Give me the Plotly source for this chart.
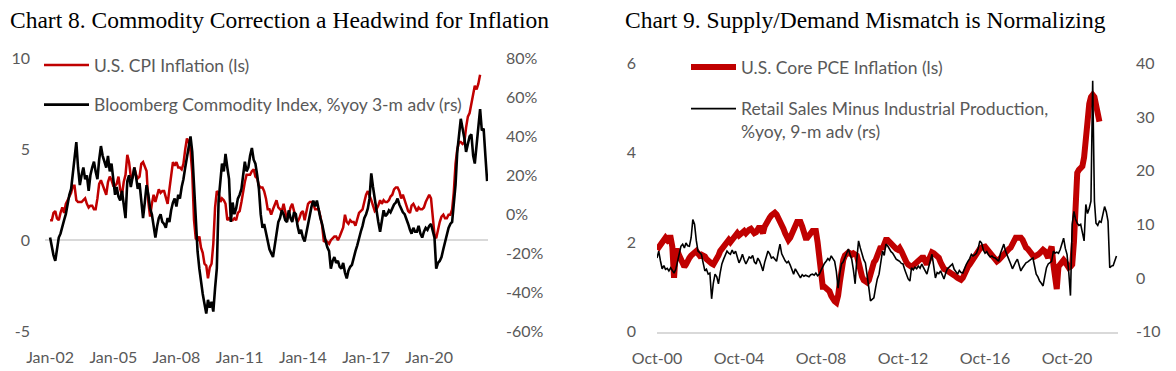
import pandas as pd
import plotly.graph_objects as go

# ---------------- Chart 8 data ----------------
cpi_start = "2002-01-01"
cpi = [
    1.1, 1.1, 1.5, 1.6, 1.2, 1.1, 1.5, 1.8, 1.5, 2.0, 2.2, 2.4,
    2.6, 3.0, 3.0, 2.2, 2.1, 2.1, 2.1, 2.2, 2.3, 2.0, 1.8, 1.9,
    1.9, 1.7, 1.7, 2.3, 3.1, 3.3, 3.0, 2.7, 2.5, 3.2, 3.5, 3.3,
    3.0, 3.0, 3.1, 3.5, 2.8, 2.5, 3.2, 3.6, 4.7, 4.3, 3.5, 3.4,
    4.0, 3.6, 3.4, 3.5, 4.2, 4.3, 4.1, 3.8, 2.1, 1.3, 2.0, 2.5,
    2.1, 2.4, 2.8, 2.6, 2.7, 2.7, 2.4, 2.0, 2.8, 3.5, 4.3, 4.1,
    4.3, 4.0, 4.0, 3.9, 4.2, 5.0, 5.6, 5.4, 4.9, 3.7, 1.1, 0.1,
    0.0, 0.2, -0.4, -0.7, -1.3, -1.4, -2.1, -1.5, -1.3, -0.2, 1.8, 2.7,
    2.6, 2.1, 2.3, 2.2, 2.0, 1.1, 1.2, 1.1, 1.1, 1.2, 1.1, 1.5,
    1.6, 2.1, 2.7, 3.2, 3.6, 3.6, 3.6, 3.8, 3.9, 3.5, 3.4, 3.0,
    2.9, 2.9, 2.7, 2.3, 1.7, 1.7, 1.4, 1.7, 2.0, 2.2, 1.8, 1.7,
    1.6, 2.0, 1.5, 1.1, 1.4, 1.8, 2.0, 1.5, 1.2, 1.0, 1.2, 1.5,
    1.6, 1.1, 1.5, 2.0, 2.1, 2.1, 2.0, 1.7, 1.7, 1.7, 1.3, 0.8,
    -0.1, 0.0, -0.1, -0.2, 0.0, 0.1, 0.2, 0.2, 0.0, 0.2, 0.5, 0.7,
    1.4, 1.0, 0.9, 1.1, 1.0, 1.0, 0.8, 1.1, 1.5, 1.6, 1.7, 2.1,
    2.5, 2.7, 2.4, 2.2, 1.9, 1.6, 1.7, 1.9, 2.2, 2.0, 2.2, 2.1,
    2.1, 2.2, 2.4, 2.5, 2.8, 2.9, 2.9, 2.7, 2.3, 2.5, 2.2, 1.9,
    1.6, 1.5, 1.9, 2.0, 1.8, 1.6, 1.8, 1.7, 1.7, 1.8, 2.1, 2.3,
    2.5, 2.3, 1.5, 0.3, 0.1, 0.6, 1.0, 1.3, 1.4, 1.2, 1.2, 1.4,
    1.4, 1.7, 2.6, 4.2, 5.0, 5.4, 5.4, 5.3, 5.4, 6.2, 6.8, 7.0,
    7.5, 7.9, 8.5, 8.3, 8.6, 9.1,
]

bcom_start = "2002-01-01"
bcom = [
    -12, -18, -21, -24, -17, -12, -10, -6, -3, 0, 6, 10,
    13, 22, 30, 37, 24, 15, 20, 24, 18, 20, 12, 20,
    24, 27, 22, 18, 28, 35, 30, 27, 24, 30, 22, 26,
    18, 10, 14, 9, 7, 12, 5, -2, 17, 20, 14, 20,
    24, 19, 13, 16, 8, -2, 6, 15, 10, 3, 0, -6,
    -12, -6, -2, 0, -4, -5, -7, -2, -4, 2, 6, 8,
    4, 10, 8, 14, 18, 24, 30, 34, 40, 32, 15, -2,
    -19, -28, -35, -41, -46, -51, -44, -48, -45, -50, -38, -28,
    7, 18, 26, 22, 31, 24, 18, -4, 6, 0, 3, 8,
    10, 13, 20, 27, 22, 24, 30, 34, 28, 26, 20, 13,
    0, -7, -5, -10, -14, -18, -20, -22, -16, -10, -4, -2,
    2, 0, -3, -4, 2, -2, -4, 1, 0, -6, -10, -8,
    -12, -14, -10, -4, 0, 4, 7, 4, 7, 2, -2, -5,
    -10, -14, -17, -19, -28, -24, -22, -25, -24, -27, -28, -25,
    -30, -33, -29, -27, -26, -22, -19, -16, -12, -9, -6, -2,
    0, 3, 8, 21, 14, 7, 2, -4, -9, -3, 2, -1,
    0, 2, 1, 3, 5, 6, 8, 5, 3, 1, 0, -2,
    -5, -8, -10, -7, -9, -9, -6, -10, -12, -9, -7, -8,
    -6, -5, -8, -12, -28, -25, -24, -22, -18, -14, -10, -7,
    -5, -4, 5, 15, 32, 42, 49, 44, 39, 32, 36, 40,
    41, 30, 26, 36, 48, 54, 43, 44, 30, 17,
]

left_y_ticks = [-5, 0, 5, 10]
left_y_text = ["-5", "0", "5", "10"]
left_y2_ticks = [-60, -40, -20, 0, 20, 40, 60, 80]
left_y2_text = ["-60%", "-40%", "-20%", "0%", "20%", "40%", "60%", "80%"]
left_x_ticks = ["2002-01-01", "2005-01-01", "2008-01-01", "2011-01-01",
                "2014-01-01", "2017-01-01", "2020-01-01"]
left_x_text = ["Jan-02", "Jan-05", "Jan-08", "Jan-11", "Jan-14", "Jan-17", "Jan-20"]

# ---------------- Chart 9 data ----------------
pce_start = "2000-10-01"
pce = [
    1.83, 1.9, 1.95,
    2.0, 2.05, 2.1, 2.05, 2.1, 2.1, 1.9, 1.2, 1.8, 1.8, 1.7, 1.6,
    1.5, 1.45, 1.5, 1.6, 1.65, 1.7, 1.75, 1.8, 1.8, 1.75, 1.7, 1.72,
    1.7, 1.68, 1.62, 1.57, 1.55, 1.52, 1.5, 1.55, 1.6, 1.7, 1.8, 1.85,
    1.9, 1.95, 2.0, 2.05, 2.0, 2.05, 2.1, 2.15, 2.2, 2.15, 2.2, 2.22,
    2.25, 2.2, 2.25, 2.28, 2.3, 2.25, 2.2, 2.22, 2.3, 2.35, 2.28, 2.2,
    2.35, 2.45, 2.5, 2.55, 2.6, 2.63, 2.66, 2.62, 2.55, 2.45, 2.4, 2.3,
    2.2, 2.1, 2.05, 2.1, 2.2, 2.3, 2.35, 2.45, 2.45, 2.45, 2.35, 2.2,
    2.1, 2.1, 2.15, 2.2, 2.25, 2.25, 2.25, 2.0, 1.7, 1.3, 1.0, 1.0,
    0.97, 0.95, 0.9, 0.8, 0.72, 0.68, 0.65, 0.8, 1.1, 1.4, 1.6, 1.7,
    1.75, 1.77, 1.75, 1.72, 1.75, 1.7, 1.7, 1.55, 1.35, 1.23, 1.15, 1.1,
    1.1, 1.15, 1.3, 1.45, 1.55, 1.6, 1.7, 1.8, 1.9, 1.85, 1.95, 2.05,
    2.05, 2.0, 1.95, 1.95, 1.9, 1.85, 1.83, 1.87, 1.8, 1.7, 1.6, 1.55,
    1.5, 1.47, 1.45, 1.48, 1.52, 1.57, 1.6, 1.62, 1.65, 1.65, 1.58, 1.5,
    1.6, 1.7, 1.77, 1.75, 1.72, 1.7, 1.65, 1.55, 1.45, 1.4, 1.38, 1.36,
    1.34, 1.32, 1.28, 1.25, 1.23, 1.2, 1.18, 1.16, 1.2, 1.3, 1.39, 1.45,
    1.5, 1.57, 1.62, 1.7, 1.75, 1.8, 1.85, 1.88, 1.9, 1.9, 1.85, 1.8,
    1.77, 1.7, 1.65, 1.6, 1.57, 1.6, 1.65, 1.7, 1.72, 1.75, 1.8, 1.85,
    1.88, 1.95, 2.05, 2.1, 2.1, 2.1, 2.1, 2.05, 1.95, 1.88, 1.85, 1.8,
    1.72, 1.7, 1.68, 1.72, 1.72, 1.75, 1.8, 1.83, 1.8, 1.72, 1.65, 1.8,
    1.9, 1.5, 1.1, 0.95, 1.45, 1.5, 1.55, 1.6, 1.55, 1.5, 1.43, 1.45,
    1.5, 2.0, 3.0, 3.55, 3.62, 3.65, 3.7, 3.9, 4.4, 4.8, 5.1, 5.25,
    5.3, 5.25, 5.1, 4.85, 4.7,
]

rsip_start = "2000-10-01"
rsip = [
    3.7, 5.0, 3.2,
    1.7, 2.3, 1.6, 1.8, 1.3, 1.9, 1.5, 0.9, 1.6, 3.1, 4.8, 5.9,
    6.3, 5.6, 6.5, 6.0, 5.9, 7.5, 10.9, 10.0, 7.0, 5.0, 4.7, 4.4,
    2.8, 1.3, 1.6, 0.7, 0.9, -3.9, -1.0, 0.7, 0.2, -1.1, 1.0, 2.6,
    3.5, 4.2, 5.0, 4.6, 4.4, 5.2, 4.5, 5.0, 3.8, 2.8, 3.5, 4.4,
    3.4, 2.6, 3.2, 3.9, 3.7, 4.2, 3.0, 2.6, 3.7, 3.2, 2.3, 1.3,
    2.9, 4.0, 5.0, 4.5, 3.7, 3.9, 3.4, 3.1, 4.8, 6.3, 4.5, 3.7,
    3.2, 2.8, 3.1, 2.4, 1.5, 0.7, 1.7, 1.2, 0.6, 0.0, 0.6, 0.3,
    0.5, 0.4, 0.2, 0.6, 0.7, 0.5, 0.9, 0.4, 0.7, 1.4, 2.2, 2.7,
    3.1, 3.6, 3.3, 4.1, 3.6, 3.1, 1.2, -1.9, 0.8, 2.6, 3.0, 3.7,
    4.5, 5.4, 4.4, 3.5, 1.5, -1.1, 3.5, 6.9, 5.6, 4.4, 3.4, 2.8,
    0.8, -1.9, -4.3, -3.9, -3.7, -1.8, -0.2, 0.7, 2.5, 5.0, 4.2, 6.3,
    6.0, 5.3, 4.9, 4.6, 4.0, 3.5, 3.3, 3.1, 2.7, 2.6, 1.5, 0.5,
    -0.2, -0.6, 1.9, 1.5, 2.0, 1.7, 2.2, 1.8, 2.6, 1.9, 1.4, 0.7,
    2.0, 3.2, 4.4, 2.2, 0.0, 1.0, 0.8, 1.3, 0.6, -0.2, 0.9, 1.7,
    2.0, 2.3, 2.6, 1.6, 1.2, 0.7, 1.4, 1.0, 0.9, 1.8, 2.5, 3.1,
    3.6, 4.4, 4.1, 4.3, 4.6, 5.5, 6.9, 6.5, 5.2, 4.6, 4.9, 4.3,
    3.9, 4.1, 3.8, 3.7, 3.4, 3.1, 4.5, 5.4, 6.3, 5.0, 4.2, 3.7,
    2.6, 1.7, 2.4, 3.0, 3.5, 2.4, 1.3, 1.9, 2.4, 2.8, 3.0, 3.3,
    3.5, 3.7, 2.2, 0.7, 0.2, -0.6, -1.0, -1.5, 0.3, 1.9, 2.6, 2.9,
    3.1, 5.0, 4.6, 4.8, 4.6, 5.3, 6.2, 7.4, 5.5, 4.4, 1.0, -3.3,
    10.0, 12.4, 11.0, 10.2, 9.8, 10.0, 8.5, 6.9, 13.7, 12.0, 13.0, 14.3,
    36.8, 14.3, 10.2, 9.8, 10.6, 10.4, 11.8, 13.3, 12.3, 10.6, 1.9, 2.2,
    2.3, 3.2, 4.1,
]

right_y_ticks = [0, 2, 4, 6]
right_y_text = ["0", "2", "4", "6"]
right_y2_ticks = [-10, 0, 10, 20, 30, 40]
right_y2_text = ["-10", "0", "10", "20", "30", "40"]
right_x_ticks = ["2000-10-01", "2004-10-01", "2008-10-01", "2012-10-01",
                 "2016-10-01", "2020-10-01"]
right_x_text = ["Oct-00", "Oct-04", "Oct-08", "Oct-12", "Oct-16", "Oct-20"]

names = {
    "cpi": "U.S. CPI Inflation (ls)",
    "bcom": "Bloomberg Commodity Index, %yoy 3-m adv (rs)",
    "pce": "U.S. Core PCE Inflation (ls)",
    "rsip": "Retail Sales Minus Industrial Production,<br>%yoy, 9-m adv (rs)",
}
titles = ["Chart 8. Commodity Correction a Headwind for Inflation",
          "Chart 9. Supply/Demand Mismatch is Normalizing"]

# ---------------- figure ----------------
W, H = 1176, 371
RED = "#C00000"
GRAY_TXT = "#595959"
GRID = "#D9D9D9"
TICKFONT = dict(family="Lato", size=16, color=GRAY_TXT)
LEGFONT = dict(family="Lato", size=17.5, color=GRAY_TXT)


def px_x(p):
    return p / W


def px_y(p):
    return 1 - p / H


cpi_x = pd.date_range(cpi_start, periods=len(cpi), freq="MS")
bcom_x = pd.date_range(bcom_start, periods=len(bcom), freq="MS")
pce_x = pd.date_range(pce_start, periods=len(pce), freq="MS")
rsip_x = pd.date_range(rsip_start, periods=len(rsip), freq="MS")

fig = go.Figure()
fig.add_trace(go.Scatter(x=cpi_x, y=cpi, name=names["cpi"], mode="lines",
                         line=dict(color=RED, width=2.5), xaxis="x", yaxis="y",
                         legend="legend", legendgroup="a"))
fig.add_trace(go.Scatter(x=bcom_x, y=bcom, name=names["bcom"], mode="lines",
                         line=dict(color="#000000", width=2.6), xaxis="x", yaxis="y2",
                         legend="legend", legendgroup="b"))
fig.add_trace(go.Scatter(x=pce_x, y=pce, name=names["pce"], mode="lines",
                         line=dict(color=RED, width=6), xaxis="x2", yaxis="y3",
                         legend="legend2", legendgroup="c"))
fig.add_trace(go.Scatter(x=rsip_x, y=rsip, name=names["rsip"], mode="lines",
                         line=dict(color="#000000", width=1.6), xaxis="x2", yaxis="y4",
                         legend="legend2", legendgroup="d"))

common_x = dict(showgrid=False, zeroline=False, ticks="", tickfont=TICKFONT,
                fixedrange=True, automargin=False)
common_y = dict(showgrid=False, ticks="", tickfont=TICKFONT, fixedrange=True,
                automargin=False)

fig.update_layout(
    template="none",
    width=W, height=H, autosize=False,
    margin=dict(l=0, r=0, t=0, b=0, pad=0, autoexpand=False),
    paper_bgcolor="white", plot_bgcolor="white",
    font=dict(family="Lato", color=GRAY_TXT),
    hovermode=False,
    xaxis=dict(domain=[px_x(45), px_x(488)], anchor="y",
               range=["2001-10-05", "2022-10-16"],
               tickmode="array", tickvals=left_x_ticks, ticktext=left_x_text,
               showline=False, ticklabelstandoff=15, **common_x),
    yaxis=dict(domain=[px_y(331), px_y(58.5)], anchor="x", range=[-5, 10],
               tickmode="array", tickvals=left_y_ticks, ticktext=left_y_text,
               zeroline=True, zerolinecolor=GRID, zerolinewidth=2,
               ticklabelstandoff=14, **common_y),
    yaxis2=dict(overlaying="y", side="right", anchor="x", range=[-60, 80],
                tickmode="array", tickvals=left_y2_ticks, ticktext=left_y2_text,
                zeroline=False, ticklabelstandoff=17, **common_y),
    xaxis2=dict(domain=[px_x(657), px_x(1118)], anchor="y3",
                range=["2000-10-01", "2023-03-28"],
                tickmode="array", tickvals=right_x_ticks, ticktext=right_x_text,
                showline=True, linecolor=GRID, linewidth=2,
                ticklabelstandoff=11, **common_x),
    yaxis3=dict(domain=[px_y(331.5), px_y(63.5)], anchor="x2", range=[0, 6],
                tickmode="array", tickvals=right_y_ticks, ticktext=right_y_text,
                zeroline=False, ticklabelstandoff=20, **common_y),
    yaxis4=dict(overlaying="y3", side="right", anchor="x2", range=[-10, 40],
                tickmode="array", tickvals=right_y2_ticks, ticktext=right_y2_text,
                zeroline=False, ticklabelstandoff=17, **common_y),
    legend=dict(x=px_x(39), y=px_y(47), xanchor="left", yanchor="top",
                bgcolor="rgba(0,0,0,0)", borderwidth=0, tracegroupgap=14,
                traceorder="grouped", itemwidth=45, valign="top",
                font=LEGFONT),
    legend2=dict(x=px_x(686), y=px_y(49), xanchor="left", yanchor="top",
                 bgcolor="rgba(0,0,0,0)", borderwidth=0, tracegroupgap=16,
                 traceorder="grouped", itemwidth=45, valign="top",
                 font=LEGFONT),
    showlegend=True,
)

for i, (t, xpix) in enumerate(zip(titles, [8, 623])):
    fig.add_annotation(text=t, xref="paper", yref="paper", x=px_x(xpix), y=px_y(20),
                       xanchor="left", yanchor="middle", showarrow=False,
                       font=dict(family="Liberation Serif", size=23.5, color="#000000"))

fig.write_html("out.html", config={"displayModeBar": False, "staticPlot": True},
               post_script="document.body.style.margin='0';")
